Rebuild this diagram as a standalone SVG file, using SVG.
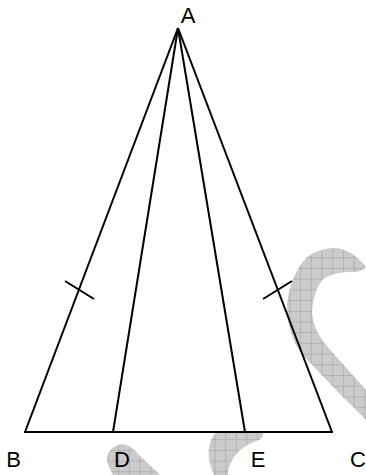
<svg xmlns="http://www.w3.org/2000/svg" width="366" height="475" viewBox="0 0 366 475">
<defs>
<pattern id="grid" patternUnits="userSpaceOnUse" x="0.5" y="0.5" width="10.7" height="10.7">
<rect width="10.7" height="10.7" fill="#cbcbcb"/>
<path d="M0 0H10.7M0 0V10.7" stroke="#9a9a9a" stroke-width="1" fill="none"/>
</pattern>
</defs>
<style>
.wm{fill:url(#grid);stroke:none}
.ln{stroke:#000;stroke-width:2;fill:none;stroke-linecap:butt}
.lbl{font-family:"Liberation Sans","DejaVu Sans",sans-serif;font-size:22px;fill:#000;text-anchor:middle}
</style>
<rect width="366" height="475" fill="#fff"/>
<g id="watermark">
<path class="wm" d="M366 420 L333 387 L300 352 Q287 332 287 305 Q290 275 307 257 Q320 248 335 248 Q352 249 366 267 Q360 273 352 272 Q336 271 323 279 Q313 291 312 312 Q313 332 333 353 L366 390 Z"/>
<path class="wm" d="M113 475 Q107 465 107 458 Q109 446 122 444 Q131 445 139 455 L157 472 L160 475 Z"/>
<path class="wm" d="M214 475 Q207 460 209 447 Q211 437 216 433 L263 433 Q264 439 256 441 Q242 446 234 457 Q228 466 228 475 Z"/>
</g>
<g id="connectors">
<line id="AB" class="ln" x1="178" y1="28" x2="25" y2="432"/>
<line id="AD" class="ln" x1="178" y1="28" x2="113" y2="432"/>
<line id="AE" class="ln" x1="178" y1="28" x2="245" y2="432"/>
<line id="AC" class="ln" x1="178" y1="28" x2="332" y2="432"/>
<line id="BC" class="ln" x1="24" y1="432" x2="333" y2="432"/>
<line id="tickAB" class="ln" x1="65" y1="281" x2="94" y2="299"/>
<line id="tickAC" class="ln" x1="263" y1="299" x2="292" y2="281"/>
</g>
<g id="A"><text class="lbl" x="188" y="23">A</text></g>
<g id="B"><text class="lbl" x="13.5" y="467">B</text></g>
<g id="D"><text class="lbl" x="122" y="467">D</text></g>
<g id="E"><text class="lbl" x="258" y="467">E</text></g>
<g id="C"><text class="lbl" x="358" y="467">C</text></g>
</svg>
